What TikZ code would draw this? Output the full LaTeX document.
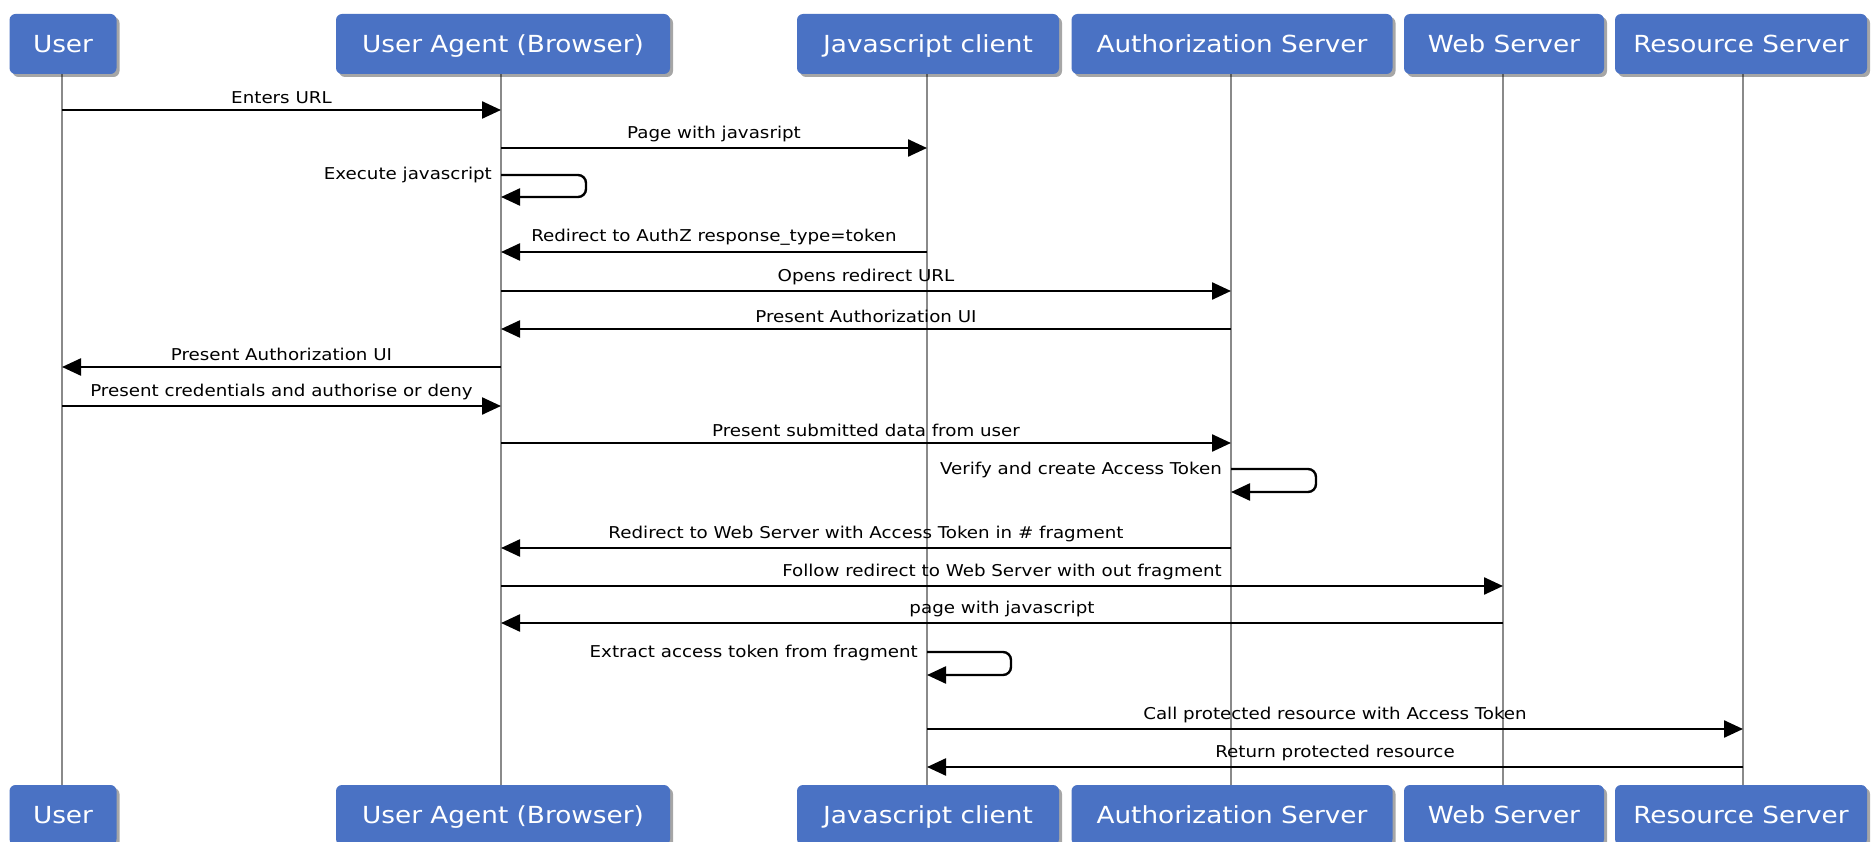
\documentclass[tikz,border=0pt]{standalone}
\usepackage{fontspec}
\setmainfont{DejaVu Sans}
\usetikzlibrary{arrows.meta,shadows}
\definecolor{boxblue}{HTML}{4A72C4}
\definecolor{lifegrey}{HTML}{8A8A8A}
\newcommand\hs[1]{\scalebox{1.12}[1]{#1}}
\begin{document}
\begin{tikzpicture}[x=1pt,y=-1pt,
  actor/.style={fill=boxblue, rounded corners=6pt, text=white, font=\fontsize{23.5}{26}\selectfont, minimum height=60pt, inner sep=0pt, text height=17pt, text depth=0pt, drop shadow={shadow xshift=3pt, shadow yshift=-3pt, opacity=0.35, fill=black}},
  life/.style={draw=lifegrey, line width=1.5pt},
  msg/.style={draw=black, line width=2.4pt, -{Triangle[length=19pt,width=17pt]}},
  selfmsg/.style={msg, rounded corners=8pt},
  lbl/.style={font=\fontsize{16.3}{18}\selectfont, inner sep=0pt},
  slbl/.style={lbl, anchor=base east}
]
\useasboundingbox[fill=white] (0,0) rectangle (1876,842);
% lifelines (behind boxes)
\coordinate (Ul) at (62,44);
\coordinate (Al) at (501,44);
\coordinate (Jl) at (927,44);
\coordinate (Zl) at (1231,44);
\coordinate (Wl) at (1503,44);
\coordinate (Rl) at (1743,44);
\coordinate (Ulb) at (62,815);
\coordinate (Alb) at (501,815);
\coordinate (Jlb) at (927,815);
\coordinate (Zlb) at (1231,815);
\coordinate (Wlb) at (1503,815);
\coordinate (Rlb) at (1743,815);
\foreach \a in {U,A,J,Z,W,R} \draw[life] (\a l) -- (\a lb);
% top actors
\node[actor, minimum width=107pt] (U) at (63,44) {\hs{User}};
\node[actor, minimum width=334pt] (A) at (503,44) {\hs{User Agent (Browser)}};
\node[actor, minimum width=262pt] (J) at (928,44) {\hs{Javascript client}};
\node[actor, minimum width=321pt] (Z) at (1232,44) {\hs{Authorization Server}};
\node[actor, minimum width=200pt] (W) at (1504,44) {\hs{Web Server}};
\node[actor, minimum width=252pt] (R) at (1741,44) {\hs{Resource Server}};
% bottom actors
\node[actor, minimum width=107pt] (Ub) at (63,815) {\hs{User}};
\node[actor, minimum width=334pt] (Ab) at (503,815) {\hs{User Agent (Browser)}};
\node[actor, minimum width=262pt] (Jb) at (928,815) {\hs{Javascript client}};
\node[actor, minimum width=321pt] (Zb) at (1232,815) {\hs{Authorization Server}};
\node[actor, minimum width=200pt] (Wb) at (1504,815) {\hs{Web Server}};
\node[actor, minimum width=252pt] (Rb) at (1741,815) {\hs{Resource Server}};
% messages
\draw[msg] (Ul |- 0,110) -- node[lbl, above=5pt] {\hs{Enters URL}} (Al |- 0,110);
\draw[msg] (Al |- 0,148) -- node[lbl, above=5pt] {\hs{Page with javasript}} (Jl |- 0,148);
\draw[selfmsg] (Al |- 0,175) -- (586,175) -- (586,197) -- (Al |- 0,197);
\node[slbl] (l3) at (492,180) {\hs{Execute javascript}};
\draw[msg] (Jl |- 0,252) -- node[lbl, above=5pt] {\hs{Redirect to AuthZ response\_type=token}} (Al |- 0,252);
\draw[msg] (Al |- 0,291) -- node[lbl, above=5pt] {\hs{Opens redirect URL}} (Zl |- 0,291);
\draw[msg] (Zl |- 0,329) -- node[lbl, above=5pt] {\hs{Present Authorization UI}} (Al |- 0,329);
\draw[msg] (Al |- 0,367) -- node[lbl, above=5pt] {\hs{Present Authorization UI}} (Ul |- 0,367);
\draw[msg] (Ul |- 0,406) -- node[lbl, above=5pt] {\hs{Present credentials and authorise or deny}} (Al |- 0,406);
\draw[msg] (Al |- 0,443) -- node[lbl, above=5pt] {\hs{Present submitted data from user}} (Zl |- 0,443);
\draw[selfmsg] (Zl |- 0,469) -- (1316,469) -- (1316,492) -- (Zl |- 0,492);
\node[slbl] (l10) at (1222,474) {\hs{Verify and create Access Token}};
\draw[msg] (Zl |- 0,548) -- node[lbl, above=5pt] {\hs{Redirect to Web Server with Access Token in \# fragment}} (Al |- 0,548);
\draw[msg] (Al |- 0,586) -- node[lbl, above=5pt] {\hs{Follow redirect to Web Server with out fragment}} (Wl |- 0,586);
\draw[msg] (Wl |- 0,623) -- node[lbl, above=5pt] {\hs{page with javascript}} (Al |- 0,623);
\draw[selfmsg] (Jl |- 0,652) -- (1011,652) -- (1011,675) -- (Jl |- 0,675);
\node[slbl] (l14) at (918,657) {\hs{Extract access token from fragment}};
\draw[msg] (Jl |- 0,729) -- node[lbl, above=5pt] {\hs{Call protected resource with Access Token}} (Rl |- 0,729);
\draw[msg] (Rl |- 0,767) -- node[lbl, above=5pt] {\hs{Return protected resource}} (Jl |- 0,767);
\end{tikzpicture}
\end{document}
